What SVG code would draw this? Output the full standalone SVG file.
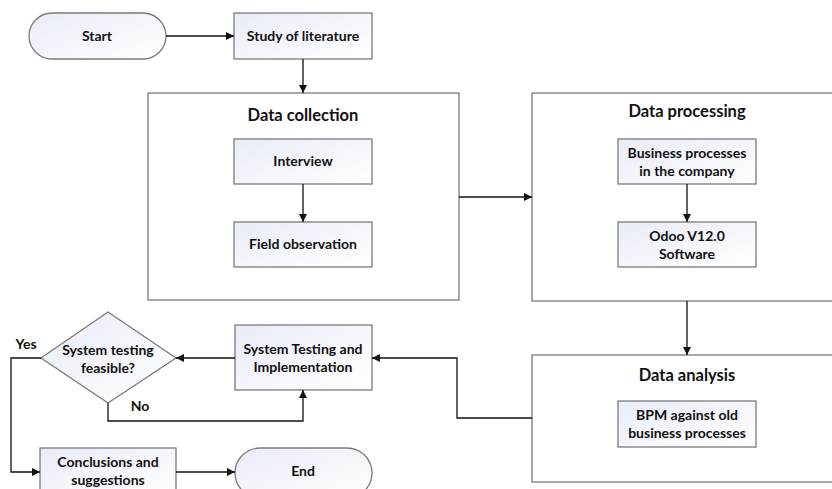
<svg xmlns="http://www.w3.org/2000/svg" width="832" height="489" viewBox="0 0 832 489">
<style>
.box{fill:url(#g);stroke:#7a7a7a;stroke-width:1.3}
.cont{fill:#fff;stroke:#7a7a7a;stroke-width:1.3}
.t{font-family:Lato,"Liberation Sans",sans-serif;font-weight:bold;font-size:14px;fill:#111;text-anchor:middle}
.h{font-family:Lato,"Liberation Sans",sans-serif;font-weight:bold;font-size:16.5px;fill:#111;text-anchor:middle}
.c{fill:none;stroke:#111;stroke-width:1.3}
</style>
<defs>
<linearGradient id="g" x1="0" y1="0" x2="1" y2="1">
<stop offset="0" stop-color="#e8ecf6"/>
<stop offset="1" stop-color="#ffffff"/>
</linearGradient>
<marker id="a" viewBox="0 0 10 10" refX="10" refY="5" markerWidth="8" markerHeight="8" markerUnits="userSpaceOnUse" orient="auto">
<path d="M0,0 L10,5 L0,10 z" fill="#111"/>
</marker>
</defs>
<rect width="832" height="489" fill="#fff"/>
<g id="data-collection"><rect class="cont" x="148" y="93" width="311" height="207"/><text class="h" x="303" y="121">Data collection</text></g>
<g id="data-processing"><rect class="cont" x="532" y="93" width="310" height="208"/><text class="h" x="687" y="117">Data processing</text></g>
<g id="data-analysis"><rect class="cont" x="532" y="355" width="310" height="127"/><text class="h" x="687" y="381">Data analysis</text></g>
<g id="start"><rect class="box" x="29" y="13" width="137" height="46" rx="23"/><text class="t" x="97" y="41">Start</text></g>
<g id="study"><rect class="box" x="234" y="13" width="138" height="46"/><text class="t" x="303" y="41">Study of literature</text></g>
<g id="interview"><rect class="box" x="234" y="139" width="138" height="45"/><text class="t" x="303" y="166">Interview</text></g>
<g id="field"><rect class="box" x="234" y="222" width="138" height="45"/><text class="t" x="303" y="249">Field observation</text></g>
<g id="business"><rect class="box" x="618" y="139" width="138" height="45"/><text class="t" x="687" y="158">Business processes</text><text class="t" x="687" y="176">in the company</text></g>
<g id="odoo"><rect class="box" x="618" y="222" width="138" height="45"/><text class="t" x="687" y="241">Odoo V12.0</text><text class="t" x="687" y="259">Software</text></g>
<g id="bpm"><rect class="box" x="618" y="401" width="138" height="46"/><text class="t" x="687" y="420">BPM against old</text><text class="t" x="687" y="438">business processes</text></g>
<g id="testing"><rect class="box" x="235" y="325" width="137" height="65"/><text class="t" x="303" y="354">System Testing and</text><text class="t" x="303" y="372">Implementation</text></g>
<g id="feasible"><polygon class="box" points="108,312 176,358 108,403 41,358"/><text class="t" x="108" y="355">System testing</text><text class="t" x="108" y="373">feasible?</text></g>
<g id="conclusions"><rect class="box" x="40" y="448" width="136" height="50"/><text class="t" x="108" y="467">Conclusions and</text><text class="t" x="108" y="485">suggestions</text></g>
<g id="end"><rect class="box" x="235" y="448" width="137" height="50" rx="25"/><text class="t" x="303" y="476">End</text></g>
<g id="connectors">
<path class="c" d="M166,36 H234" marker-end="url(#a)"/>
<path class="c" d="M303,59 V93" marker-end="url(#a)"/>
<path class="c" d="M303,184 V222" marker-end="url(#a)"/>
<path class="c" d="M459,197 H532" marker-end="url(#a)"/>
<path class="c" d="M687,184 V222" marker-end="url(#a)"/>
<path class="c" d="M687,301 V355" marker-end="url(#a)"/>
<path class="c" d="M532,418 H457 V358 H372" marker-end="url(#a)"/>
<path class="c" d="M235,358 H176" marker-end="url(#a)"/>
<path class="c" d="M108,403 V421 H303 V390" marker-end="url(#a)"/>
<path class="c" d="M41,358 H11 V472 H40" marker-end="url(#a)"/>
<path class="c" d="M176,472 H235" marker-end="url(#a)"/>
<text class="t" x="26" y="349">Yes</text>
<text class="t" x="140" y="411">No</text>
</g>
</svg>
